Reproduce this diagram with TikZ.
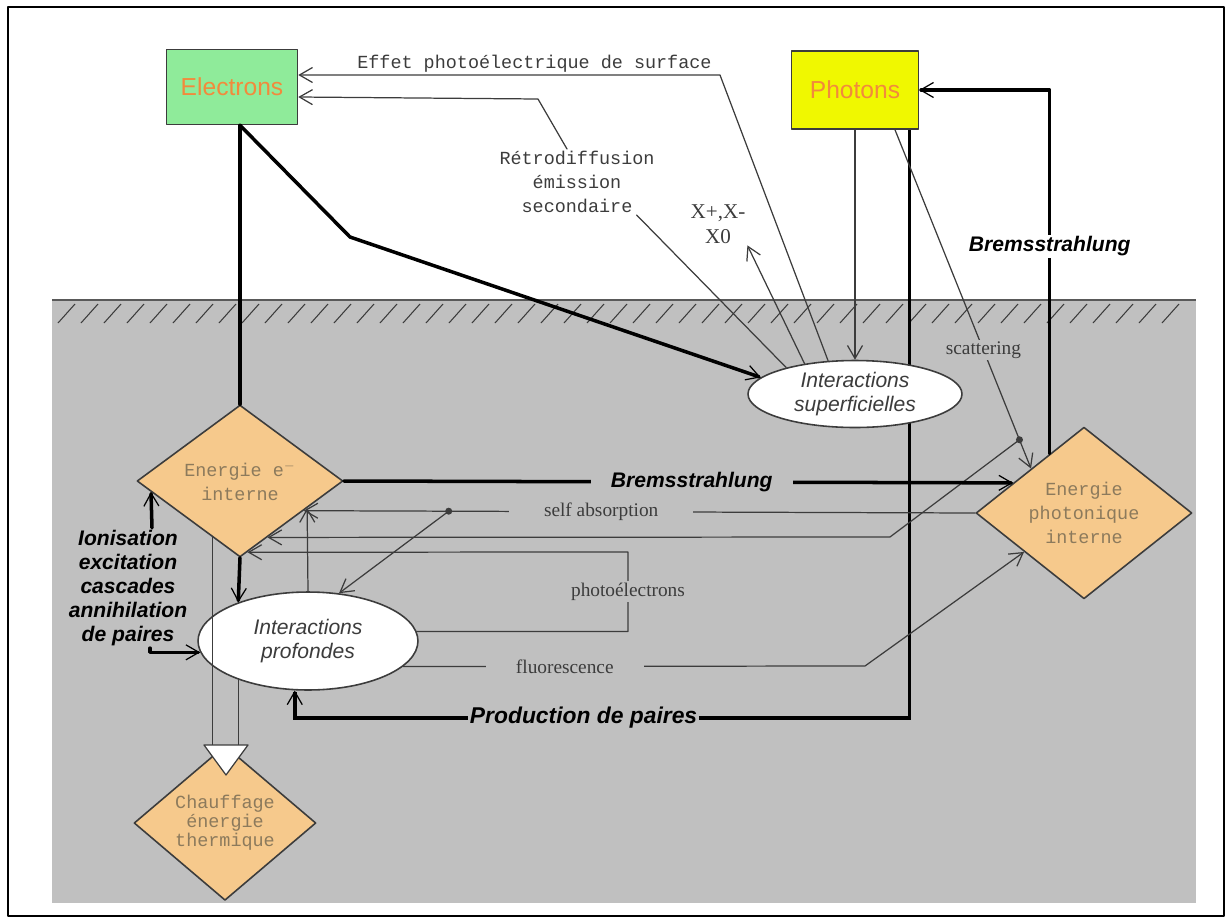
\documentclass[tikz,border=0pt]{standalone}
\usepackage{fontspec}
\setmainfont{Liberation Serif}
\setsansfont{Liberation Sans}
\setmonofont{Liberation Mono}
\usepackage{tikz}
\usetikzlibrary{arrows.meta, positioning, calc, shapes.geometric, backgrounds}
\definecolor{elgreen}{HTML}{8FEB9A}
\definecolor{phyellow}{HTML}{F0F800}
\definecolor{boxtext}{HTML}{F28A3C}
\definecolor{enfill}{HTML}{F6C98C}
\definecolor{entext}{HTML}{8C7A5C}
\definecolor{ground}{HTML}{C0C0C0}
\definecolor{ink}{HTML}{3C3C3C}

\begin{document}
\begin{tikzpicture}[
  x=0.02cm, y=-0.02cm,
  line cap=round, line join=round,
  fine/.style={draw=ink, line width=0.7pt},
  heavy/.style={draw=black, line width=2pt},
  barb/.style={-{Straight Barb[length=2.6mm, width=3mm, line width=0.7pt]}},
  box/.style={draw=ink, line width=0.9pt, minimum width=2.62cm, minimum height=1.5cm,
              font=\fontsize{14}{16}\sffamily, text=boxtext},
  energy/.style={diamond, draw=ink, line width=0.9pt, fill=enfill, inner sep=0pt,
                 font=\fontsize{10.5}{13.5}\ttfamily, text=entext, align=center},
  inter/.style={ellipse, draw=ink, line width=0.9pt, fill=white, inner sep=0pt,
                font=\fontsize{12}{13.5}\sffamily\itshape, text=ink, align=center},
  proc/.style={font=\fontsize{12}{13.7}\sffamily\bfseries\itshape, inner sep=1pt},
  note/.style={font=\fontsize{11}{13}\rmfamily, text=ink, inner sep=1pt},
  mono/.style={font=\fontsize{10.5}{13.7}\ttfamily, text=ink, align=center, inner sep=1pt},
]
\useasboundingbox (0,0) rectangle (1232,924);
\draw[line width=1.2pt] (8,7) rectangle (1224,916);

% sources above the surface
\node[box, fill=elgreen] (el) at (232,87) {Electrons};
\node[box, fill=phyellow, minimum width=2.54cm, minimum height=1.56cm] (pho) at (855,90) {Photons};

% interactions and energy reservoirs in the target
\node[inter, minimum width=4.28cm, minimum height=1.34cm] (sup) at (855,394) {Interactions\\superficielles};
\node[energy, minimum width=4.12cm, minimum height=3.04cm] (eint) at (240,481) {Energie e$^{-}$\\interne};
\node[energy, minimum width=4.32cm, minimum height=3.36cm] (phint) at (1084,513) {Energie\\photonique\\interne};
\node[inter, minimum width=4.4cm, minimum height=1.96cm] (prof) at (308,641) {Interactions\\profondes};
\node[energy, minimum width=3.64cm, minimum height=2.44cm, font=\fontsize{10.5}{8.6}\ttfamily] (chauf) at (225,823) {Chauffage\\énergie\\thermique};

% labels
\node[mono] (retro) at (577,182) {Rétrodiffusion\\émission\\secondaire};
\node[note, align=center, font=\fontsize{12}{14}\rmfamily] (xlab) at (718,224) {X+,X-\\X0};
\node[proc, align=center] (ion) at (128,588) {Ionisation\\excitation\\cascades\\annihilation\\de paires};

% ground, hatching and the pair production line behind the nodes
\begin{pgfonlayer}{background}
\fill[ground] (52,300) rectangle (1196,903);
\draw[gray!70!black, line width=0.6pt] (52,300) -- (1196,300);
\foreach \x in {58,81,...,1180}
  \draw[ink, line width=0.6pt] (\x,323) -- ++(17,-19);
\draw[heavy, barb] ([xshift=-0.2cm]pho.south east) -- ++(0,588)
  -| node[proc, fill=ground, pos=0.265, font=\fontsize{13}{15}\sffamily\bfseries\itshape]{Production de paires} (prof.-105);
\end{pgfonlayer}

% electrons
\draw[heavy] (el.south -| eint.north) -- (eint.north);
\draw[heavy, barb] (el.south -| eint.north) -- (350,237) -- (sup.170);
\draw[fine, barb] (sup.129) -- (720,75)
  -- node[mono, above, pos=0.44]{Effet photoélectrique de surface} ([yshift=0.24cm]el.east);
\draw[fine] (sup.159) -- ([xshift=-0.4cm]retro.south east);
\draw[fine, barb] ([xshift=-0.2cm]retro.north) -- (538,99) -- ([yshift=-0.2cm]el.east);
\draw[fine, barb] (sup.149) -- (xlab.south east);

% photons
\draw[fine, barb] (pho.south) -- (sup.north);
\draw[fine, barb] ([xshift=0.8cm]pho.south)
  -- node[note, fill=ground, pos=0.65]{scattering} coordinate[pos=0.915] (scdot) (phint.140);
\fill[ink] (scdot) circle[radius=2pt];
\draw[fine, barb] (scdot) -- (890,537) -- (eint.-64);
\draw[heavy, barb] (phint.120) |- node[proc, fill=white, pos=0.285]{Bremsstrahlung} (pho.east);

% exchanges inside the target
\draw[heavy, barb] (eint.east)
  -- node[proc, fill=ground, pos=0.52, inner xsep=0.4cm]{Bremsstrahlung} (phint.157);
\draw[fine, barb] (phint.west)
  -- node[note, fill=ground, pos=0.557, inner xsep=0.7cm]{self absorption} coordinate[pos=0.784] (sadot) (eint.-25);
\fill[ink] (sadot) circle[radius=2pt];
\draw[fine, barb] (sadot) -- (prof.57);
\draw[fine, barb] (prof.5) -| node[note, fill=ground, pos=0.75]{photoélectrons} (628,552) -- (eint.-84);
\draw[fine, barb] (prof.-15)
  -- node[note, fill=ground, pos=0.35, inner xsep=0.6cm]{fluorescence} (865,666) -- (phint.213);
\draw[fine, barb] (prof.north) -- (eint.-22);
\draw[heavy, barb] (eint.south) -- (prof.151);
\draw[heavy, barb] ([xshift=0.48cm]ion.north) -- (eint.187);
\draw[heavy, barb] ([xshift=0.44cm]ion.south) |- (prof.186);

% heating: hollow double arrow
\coordinate (hbase) at (226,745);
\draw[fine] (eint.-116) -- (eint.-116 |- hbase);
\draw[fine] (prof.-151) -- (prof.-151 |- hbase);
\draw[fine, fill=white] ([xshift=-0.44cm]hbase) -- ([xshift=0.44cm]hbase)
  -- ([yshift=-0.6cm]hbase) -- cycle;
\end{tikzpicture}
\end{document}
